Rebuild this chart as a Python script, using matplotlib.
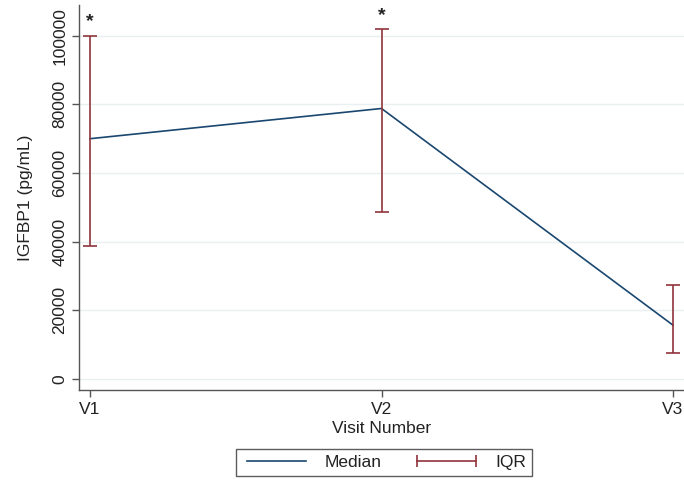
import matplotlib
matplotlib.use('Agg')
import matplotlib.pyplot as plt
from matplotlib.lines import Line2D

plt.rcParams['font.family'] = ['Liberation Sans', 'DejaVu Sans']

visits = ['V1', 'V2', 'V3']
median = [70000, 78800, 15700]
q1 = [38800, 48700, 7600]
q3 = [100000, 102000, 27400]
stars = ['*', '*', '']
yticks = [0, 20000, 40000, 60000, 80000, 100000]

navy = '#1a476f'
maroon = '#90353b'
txt = '#222222'

x = [1, 2, 3]
fig = plt.figure(figsize=(6.84, 4.8), dpi=100)
ax = fig.add_axes([0.1155, 0.1875, 0.8845, 0.8025])

ax.grid(axis='y', color='#eaf0f2', linewidth=1)
ax.set_axisbelow(True)
ax.plot(x, median, color=navy, linewidth=1.2)
ax.errorbar(x, median, yerr=[[m - l for m, l in zip(median, q1)], [h - m for m, h in zip(median, q3)]],
            fmt='none', ecolor=maroon, elinewidth=1.2, capsize=5, capthick=1.2)
for xi, h, s in zip(x, q3, stars):
    if s:
        ax.text(xi, h + 1500, s, ha='center', va='bottom', fontsize=14, fontweight='bold', color=txt)

ax.set_xlim(0.962, 3.038)
ax.set_ylim(-3200, 109000)
ax.set_xticks(x)
ax.set_xticklabels(visits)
ax.set_yticks(yticks)
ax.set_yticklabels([str(t) for t in yticks], rotation=90, va='center')
ax.tick_params(labelsize=12.5, length=5, color='#555555', width=1, labelcolor=txt)
ax.spines['top'].set_visible(False)
ax.spines['right'].set_visible(False)
for s in ['left', 'bottom']:
    ax.spines[s].set_color('#555555')
    ax.spines[s].set_linewidth(1)
ax.set_xlabel('Visit Number', fontsize=12.5, labelpad=3, color=txt)
ax.set_ylabel('IGFBP1 (pg/mL)', fontsize=12.5, labelpad=14, color=txt)

handles = [Line2D([], [], color=navy, linewidth=1.2),
           Line2D([], [], color=maroon, linewidth=1.2, marker='|', markersize=9, markeredgewidth=1.2)]
leg = fig.legend(handles, ['Median', 'IQR'], loc='center', bbox_to_anchor=(0.561, 0.0365),
                 ncol=2, numpoints=2, fontsize=12.5, frameon=True, fancybox=False,
                 handlelength=4.0, columnspacing=1.7, handletextpad=0.8, borderpad=0.35,
                 labelcolor=txt)
leg.get_frame().set_edgecolor('#333333')
leg.get_frame().set_linewidth(1)

fig.savefig('out.png', dpi=100)
